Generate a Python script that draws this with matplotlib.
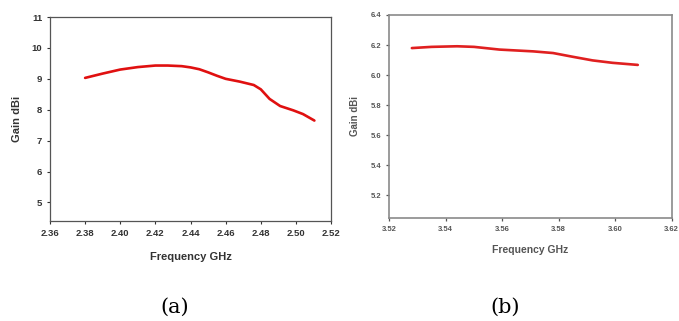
import numpy as np
import matplotlib.pyplot as plt

# panel (a) gain vs frequency
freq_a = [2.380, 2.390, 2.400, 2.410, 2.420, 2.427, 2.435, 2.440, 2.445, 2.450,
          2.455, 2.460, 2.468, 2.476, 2.480, 2.485, 2.491, 2.4985, 2.504, 2.5105]
gain_a = [9.03, 9.17, 9.30, 9.38, 9.43, 9.43, 9.41, 9.37, 9.31, 9.21,
          9.10, 9.00, 8.91, 8.80, 8.66, 8.35, 8.12, 7.98, 7.86, 7.65]

# panel (b) gain vs frequency
freq_b = [3.528, 3.535, 3.544, 3.550, 3.559, 3.571, 3.578, 3.585, 3.592, 3.599, 3.608]
gain_b = [6.180, 6.188, 6.192, 6.188, 6.170, 6.158, 6.147, 6.122, 6.098, 6.082, 6.068]

xt_a = [2.36, 2.38, 2.40, 2.42, 2.44, 2.46, 2.48, 2.50, 2.52]
yt_a = [5, 6, 7, 8, 9, 10, 11]
xt_b = [3.52, 3.54, 3.56, 3.58, 3.60, 3.62]
yt_b = [5.2, 5.4, 5.6, 5.8, 6.0, 6.2, 6.4]

plt.rcParams['font.family'] = ['Liberation Sans', 'DejaVu Sans']

fig = plt.figure(figsize=(6.79, 3.21), dpi=100)

ax1 = fig.add_axes([0.0736, 0.3115, 0.414, 0.6355])
ax1.plot(freq_a, gain_a, color='#e01010', linewidth=1.9, solid_capstyle='round')
ax1.set_xlim(2.36, 2.52)
ax1.set_ylim(4.4, 11)
ax1.set_xticks(xt_a)
ax1.set_xticklabels([f'{v:.2f}' for v in xt_a])
ax1.set_yticks(yt_a)
ax1.tick_params(labelsize=6.8, length=2.5, width=0.8, colors='#333333', pad=3)
for lab in ax1.get_xticklabels() + ax1.get_yticklabels():
    lab.set_fontweight('bold')
for s in ax1.spines.values():
    s.set_color('#555555')
    s.set_linewidth(0.9)
ax1.set_xlabel('Frequency GHz', fontsize=8, fontweight='bold', color='#333333', labelpad=10)
ax1.set_ylabel('Gain dBi', fontsize=8, fontweight='bold', color='#333333', labelpad=7)

ax2 = fig.add_axes([0.5733, 0.3209, 0.4159, 0.6324])
ax2.plot(freq_b, gain_b, color='#e02020', linewidth=1.9, solid_capstyle='round')
ax2.set_xlim(3.52, 3.62)
ax2.set_ylim(5.05, 6.4)
ax2.set_xticks(xt_b)
ax2.set_xticklabels([f'{v:.2f}' for v in xt_b])
ax2.set_yticks(yt_b)
ax2.set_yticklabels([f'{v:.1f}' for v in yt_b])
ax2.tick_params(labelsize=5.5, length=2.5, width=0.9, colors='#555555', pad=3)
for lab in ax2.get_xticklabels() + ax2.get_yticklabels():
    lab.set_fontweight('bold')
for s in ax2.spines.values():
    s.set_color('#8a8a8a')
    s.set_linewidth(1.2)
ax2.set_xlabel('Frequency GHz', fontsize=7.5, fontweight='bold', color='#555555', labelpad=9)
ax2.set_ylabel('Gain dBi', fontsize=7, fontweight='bold', color='#555555', labelpad=8)

fig.text(175 / 679, 1 - 307 / 321, '(a)', fontsize=15, family='DejaVu Serif',
         ha='center', va='center')
fig.text(505 / 679, 1 - 307 / 321, '(b)', fontsize=15, family='DejaVu Serif',
         ha='center', va='center')

fig.savefig('out.png', dpi=100)
plt.close()
